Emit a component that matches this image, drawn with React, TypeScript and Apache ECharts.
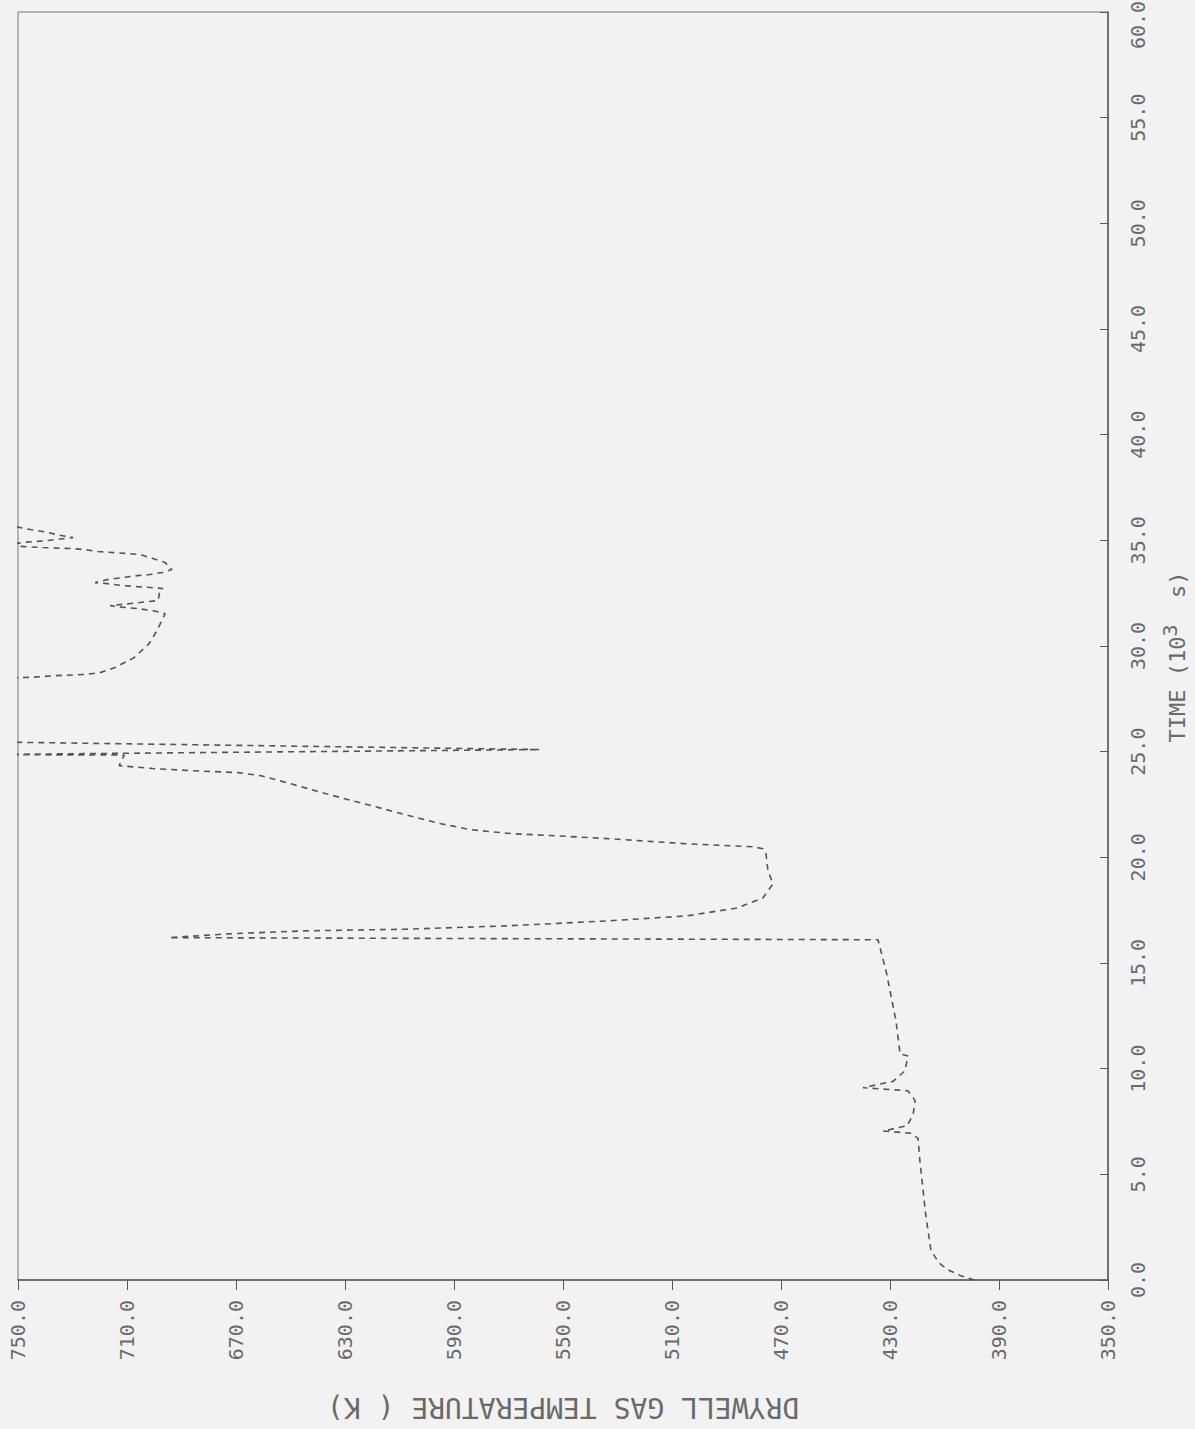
import React, { useEffect, useRef } from "react";
import * as echarts from "echarts";

// Time in 10^3 s (vertical axis, right) and drywell gas temperature in K (horizontal axis, inverted)
const timeTicksMax = 60;
const tempMin = 350;
const tempMax = 750;

const timeKs: number[] = [
  0, 0.2, 0.5, 0.8, 1.4, 3.2, 5.6, 6.7, 6.95, 7.05, 7.3, 7.85, 8.5, 8.95, 9.1, 9.4, 9.9, 10.6, 10.7, 12.26, 14.6, 16.1,
  16.2, 16.38, 16.52, 16.6, 16.76, 17.0, 17.23, 17.61, 18.09, 18.75, 19.36, 20.17, 20.41, 20.5, 20.64,
  20.88, 21.02, 21.12, 21.31, 21.59, 22.06, 22.54, 23.01, 23.48, 23.86, 24.01, 24.1, 24.2, 24.34,
  24.84, 24.86, 25.1, 25.47, 28.45,
  28.5, 28.52, 28.6, 28.65, 28.74, 28.98, 29.45, 30.11, 30.73, 31.53,
  31.67, 31.77, 31.82, 31.91, 32.15, 32.62,
  32.72, 32.77, 32.81, 32.86, 32.95, 33.0,
  33.14, 33.24, 33.33, 33.38, 33.48, 33.62,
  33.95, 34.14, 34.33, 34.38, 34.42, 34.47, 34.56, 34.61, 34.63, 34.66,
  34.75, 34.9, 34.98, 35.13, 35.25, 35.4, 35.5, 35.65, 35.7,
];

const tempK: number[] = [
  399, 404, 409, 412, 415, 417, 419, 419.7, 422.6, 432.5, 423.7, 421.5, 420.8, 423.4, 439.9, 428.9, 424.5, 423.4, 426.3, 427.8, 431.4, 434.4,
  694.6, 672.9, 645, 607.6, 570.2, 532.7, 504.5, 485.8, 476.6, 472.9, 474.8, 475.5, 476.6, 480.3, 504.5,
  532.7, 552.6, 568.7, 584.1, 594.8, 609.1, 623.1, 637, 649.8, 660.8, 669.3, 686.1, 700.5, 712.9,
  711, 765, 558.4, 765, 765,
  751, 745.2, 735.7, 725.8, 719.9, 714.4, 707.4, 701.9, 699, 696,
  700.4, 706, 710.7, 716.2, 698.6, 697.9,
  696.8, 701.6, 706.3, 711.5, 717.3, 721.7,
  717.3, 711.5, 706.3, 701.6, 697, 693.5,
  696, 700.5, 705.2, 710, 715.1, 720.6, 725.4, 730.2, 735.3, 740.8,
  755, 748.5, 740, 729.8, 735, 740, 745, 751, 765,
];

const tempAxisTitle = "DRYWELL GAS TEMPERATURE ( K)";
const timeAxisTitle = "TIME (10{sup|3}  s)";

export default function App() {
  const ref = useRef<HTMLDivElement>(null);

  useEffect(() => {
    document.body.style.margin = "0";
    document.body.style.background = "#f2f2f2";
    const chart = echarts.init(ref.current as HTMLDivElement, null, { renderer: "svg" });
    const pts = timeKs.map((t, i) => [tempK[i], t]);
    const ink = "#5a5a5a";
    const labelFont = {
      fontFamily: "DejaVu Sans Mono",
      fontSize: 20,
      color: "#6a6a6a",
    };
    chart.setOption({
      animation: false,
      backgroundColor: "#f2f2f2",
      grid: {
        left: 18,
        right: 87,
        top: 12,
        bottom: 149,
        show: true,
        borderColor: "#777",
        borderWidth: 1,
        containLabel: false,
        outerBoundsMode: "none",
      },
      xAxis: {
        type: "value",
        min: tempMin,
        max: tempMax,
        interval: 40,
        inverse: true,
        position: "bottom",
        axisLine: { show: true, lineStyle: { color: ink, width: 1.5 } },
        axisTick: { show: true, inside: false, length: 10, lineStyle: { color: ink, width: 1 } },
        axisLabel: {
          rotate: 90,
          margin: 20,
          formatter: (v: number) => v.toFixed(1),
          ...labelFont,
        },
        splitLine: { show: false },
        name: tempAxisTitle,
        nameLocation: "middle",
        nameGap: 113,
        nameRotate: 180,
        nameTextStyle: { ...labelFont, fontSize: 28 },
      },
      yAxis: {
        type: "value",
        min: 0,
        max: timeTicksMax,
        interval: 5,
        position: "right",
        axisLine: { show: true, lineStyle: { color: ink, width: 1.5 } },
        axisTick: { show: true, inside: true, length: 8, lineStyle: { color: ink, width: 1 } },
        axisLabel: {
          rotate: 90,
          margin: 20,
          formatter: (v: number) => (v === timeTicksMax ? "{mx|" + v.toFixed(1) + "}" : v.toFixed(1)),
          ...labelFont,
          rich: {
            mx: { fontFamily: "DejaVu Sans Mono", fontSize: 20, color: "#6a6a6a", padding: [0, 26, 0, 0] },
          },
        },
        splitLine: { show: false },
        name: timeAxisTitle,
        nameLocation: "middle",
        nameGap: 52,
        nameRotate: 90,
        nameTextStyle: {
          ...labelFont,
          fontSize: 22,
          padding: [0, 22, 0, 0],
          rich: {
            sup: { fontFamily: "DejaVu Sans Mono", fontSize: 20, color: "#6a6a6a", padding: [0, 0, 14, 0] },
          },
        },
      },
      series: [
        {
          type: "line",
          data: pts,
          showSymbol: false,
          clip: true,
          lineStyle: { color: "#555", width: 1.6, type: [6, 5] },
        },
      ],
    });
    return () => chart.dispose();
  }, []);

  return <div ref={ref} style={{ width: 1195, height: 1429 }} />;
}
